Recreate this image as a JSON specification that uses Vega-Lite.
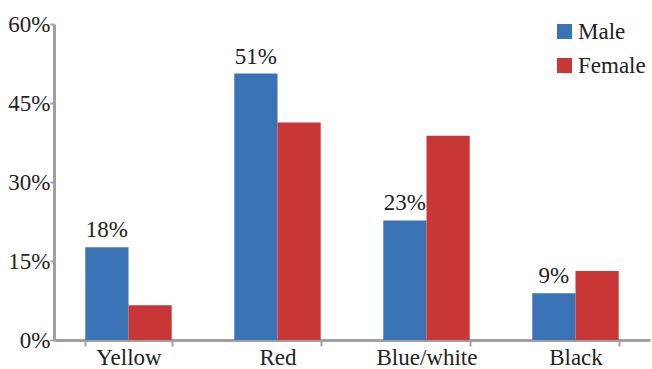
{
  "$schema": "https://vega.github.io/schema/vega-lite/v6.json",
  "width": 596,
  "height": 316,
  "autosize": {"type": "none"},
  "padding": {"left": 54, "top": 24, "right": 2, "bottom": 29},
  "background": "white",
  "config": {"view": {"stroke": null}, "font": "Liberation Serif"},
  "data": {
    "values": [
      {"color": "Yellow", "sex": "Male", "value": 0.176},
      {"color": "Yellow", "sex": "Female", "value": 0.066},
      {"color": "Red", "sex": "Male", "value": 0.506},
      {"color": "Red", "sex": "Female", "value": 0.413},
      {"color": "Blue/white", "sex": "Male", "value": 0.227},
      {"color": "Blue/white", "sex": "Female", "value": 0.388},
      {"color": "Black", "sex": "Male", "value": 0.089},
      {"color": "Black", "sex": "Female", "value": 0.131}
    ]
  },
  "encoding": {
    "x": {
      "field": "color", "type": "nominal", "sort": null, "title": null,
      "scale": {"paddingInner": 0.42, "paddingOuter": 0.21},
      "axis": {
        "labelAngle": 0, "labelFont": "Liberation Serif", "labelFontSize": 23, "labelColor": "#222", "labelPadding": 0,
        "labelBaseline": "top",
        "domainColor": "#a0a0a0", "domainWidth": 3, "tickColor": "#a0a0a0", "tickWidth": 2, "tickSize": 6,
        "tickBand": "extent", "grid": false
      }
    },
    "xOffset": {"field": "sex", "type": "nominal", "sort": ["Male", "Female"]},
    "y": {
      "field": "value", "type": "quantitative", "title": null,
      "scale": {"domain": [0, 0.6], "nice": false},
      "axis": {
        "values": [0, 0.15, 0.3, 0.45, 0.6], "format": ".0%", "labelFont": "Liberation Serif", "labelFontSize": 23, "labelColor": "#222",
        "domainColor": "#a0a0a0", "domainWidth": 3, "tickColor": "#a0a0a0", "tickWidth": 2, "tickSize": 4,
        "labelPadding": 0, "grid": false
      }
    }
  },
  "layer": [
    {
      "mark": {"type": "bar"},
      "encoding": {
        "color": {
          "field": "sex", "type": "nominal", "sort": ["Male", "Female"], "title": null,
          "scale": {"domain": ["Male", "Female"], "range": ["#3a72b6", "#c93636"]},
          "legend": {
            "orient": "none", "legendX": 499, "legendY": -4,
            "symbolType": "square", "symbolSize": 225, "symbolStrokeWidth": 0,
            "labelFont": "Liberation Serif", "labelFontSize": 23, "labelColor": "#222", "rowPadding": 10, "labelOffset": 2
          }
        }
      }
    },
    {
      "transform": [{"filter": "datum.sex === 'Male'"}],
      "mark": {"type": "text", "baseline": "bottom", "dy": -5, "font": "Liberation Serif", "fontSize": 23, "color": "#222"},
      "encoding": {
        "text": {"field": "value", "type": "quantitative", "format": ".0%"}
      }
    }
  ]
}
